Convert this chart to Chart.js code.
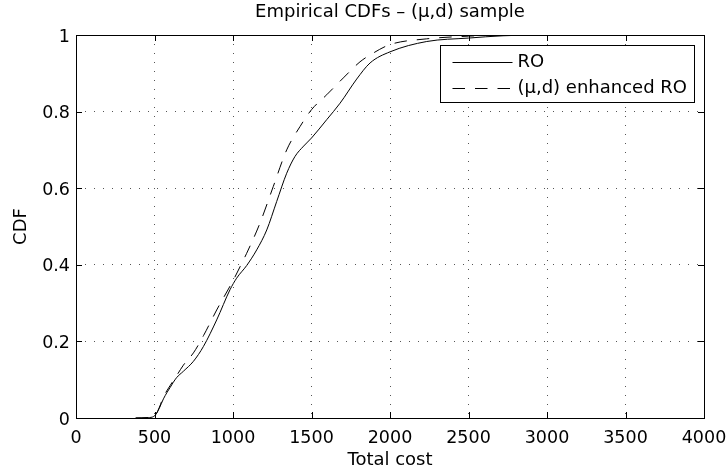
<!DOCTYPE html>
<html><head><meta charset="utf-8">
<script src="https://cdn.jsdelivr.net/npm/chart.js@4.4.1/dist/chart.umd.min.js"></script>
<style>html,body{margin:0;padding:0;background:#fff}#wrap{width:727px;height:473px}</style>
</head><body><div id="wrap"><canvas id="c" width="727" height="473"></canvas></div>
<script>
// ---- data ----
const costRO = [380, 460, 495, 510, 530, 557, 600, 640, 684, 748, 812, 896, 981, 1023, 1087, 1151, 1215, 1278, 1342, 1395, 1450, 1500, 1597, 1682, 1788, 1873, 2000, 2234, 2500, 2720, 2900];
const cdfRO  = [0, 0.001, 0.004, 0.01, 0.025, 0.05, 0.08, 0.105, 0.122, 0.148, 0.187, 0.256, 0.335, 0.365, 0.398, 0.439, 0.491, 0.565, 0.639, 0.683, 0.71, 0.731, 0.779, 0.822, 0.885, 0.927, 0.956, 0.983, 0.992, 0.998, 1];
const costEnh = [380, 460, 495, 510, 530, 557, 600, 640, 684, 748, 812, 896, 1002, 1045, 1087, 1172, 1257, 1342, 1427, 1500, 1597, 1703, 1809, 1894, 2000, 2234, 2500, 2700, 2900];
const cdfEnh  = [0, 0.001, 0.004, 0.01, 0.027, 0.055, 0.085, 0.11, 0.138, 0.17, 0.215, 0.282, 0.36, 0.395, 0.43, 0.509, 0.605, 0.7, 0.761, 0.805, 0.844, 0.888, 0.93, 0.953, 0.975, 0.99, 0.997, 1, 1];
const xTicks = [0, 500, 1000, 1500, 2000, 2500, 3000, 3500, 4000];
const yTicks = [0, 0.2, 0.4, 0.6, 0.8, 1];
const seriesLabels = ['RO', '(\u03bc,d) enhanced RO'];
const titleText = 'Empirical CDFs \u2013 (\u03bc,d) sample';
const xTitle = 'Total cost';
const yTitle = 'CDF';

const FONT = 'DejaVu Sans';
const pts = (xs, ys) => xs.map((x, i) => ({x: x, y: ys[i]}));

const frame = {
  id: 'frame',
  afterDatasetsDraw(chart) {
    const {ctx, chartArea: a, scales: {x, y}} = chart;
    ctx.save();
    ctx.strokeStyle = '#000';
    ctx.lineWidth = 1;
    ctx.setLineDash([]);
    // inner tick marks on all four sides
    ctx.beginPath();
    const tl = 6;
    xTicks.forEach(v => {
      const px = Math.round(x.getPixelForValue(v)) + 0.5;
      ctx.moveTo(px, a.bottom); ctx.lineTo(px, a.bottom - tl);
      ctx.moveTo(px, a.top); ctx.lineTo(px, a.top + tl);
    });
    yTicks.forEach(v => {
      const py = Math.round(y.getPixelForValue(v)) + 0.5;
      ctx.moveTo(a.left, py); ctx.lineTo(a.left + tl, py);
      ctx.moveTo(a.right, py); ctx.lineTo(a.right - tl, py);
    });
    ctx.stroke();
    // box
    ctx.strokeRect(Math.round(a.left) + 0.5, Math.round(a.top) + 0.5,
                   Math.round(a.right - a.left), Math.round(a.bottom - a.top));
    // legend
    ctx.font = '18px "' + FONT + '"';
    const lineLen = 60, padL = 12, gap = 5, padR = 8, rowH = 26.5;
    const tw = Math.max(...chart.data.datasets.map(d => ctx.measureText(d.label).width));
    const bw = Math.round(padL + lineLen + gap + tw + padR);
    const bh = 57;
    const bx = Math.round(a.right - 10 - bw) + 0.5;
    const by = Math.round(a.top + 10) + 0.5;
    ctx.fillStyle = '#fff';
    ctx.fillRect(bx, by, bw, bh);
    ctx.strokeRect(bx, by, bw, bh);
    chart.data.datasets.forEach((d, i) => {
      const cy = Math.round(by + 16 + i * rowH) + 0.5;
      ctx.beginPath();
      ctx.setLineDash(d.borderDash || []);
      ctx.strokeStyle = d.borderColor;
      ctx.lineWidth = d.borderWidth;
      ctx.moveTo(bx + padL, cy);
      ctx.lineTo(bx + padL + lineLen, cy);
      ctx.stroke();
      ctx.setLineDash([]);
      ctx.fillStyle = '#000';
      ctx.textBaseline = 'middle';
      ctx.textAlign = 'left';
      ctx.fillText(d.label, bx + padL + lineLen + gap, cy);
    });
    ctx.restore();
  }
};

new Chart(document.getElementById('c'), {
  type: 'line',
  data: {
    datasets: [
      { label: seriesLabels[0], data: pts(costRO, cdfRO), borderColor: '#000', borderWidth: 1,
        pointRadius: 0, fill: false, cubicInterpolationMode: 'monotone' },
      { label: seriesLabels[1], data: pts(costEnh, cdfEnh), borderColor: '#000', borderWidth: 1,
        borderDash: [12.5, 10], pointRadius: 0, fill: false, cubicInterpolationMode: 'monotone' }
    ]
  },
  options: {
    responsive: false,
    animation: false,
    layout: { padding: { left: 0, right: 23, top: 0, bottom: 0 } },
    plugins: {
      legend: { display: false },
      tooltip: { enabled: false },
      title: { display: true, text: titleText, fullSize: false, color: '#000',
               font: { family: FONT, size: 18, weight: 'normal' },
               padding: { top: 2, bottom: 11.4 } }
    },
    scales: {
      x: {
        type: 'linear', min: 0, max: 4000,
        afterFit: s => { s.height = 55; s.paddingLeft = 0; s.paddingRight = 0; },
        afterBuildTicks: s => { s.ticks = xTicks.map(v => ({value: v})); },
        grid: { color: '#555', lineWidth: 1, drawTicks: false },
        border: { display: false, dash: [1, 8] },
        ticks: { color: '#000', font: { family: FONT, size: 17.5 }, padding: 9.5,
                 maxRotation: 0, autoSkip: false, callback: v => String(v) },
        title: { display: true, text: xTitle, color: '#000',
                 font: { family: FONT, size: 18 }, padding: { top: 0, bottom: 2.2 } }
      },
      y: {
        type: 'linear', min: 0, max: 1,
        afterFit: s => { s.width = 76; s.paddingTop = 0; s.paddingBottom = 0; },
        afterBuildTicks: s => { s.ticks = yTicks.map(v => ({value: v})); },
        grid: { color: '#555', lineWidth: 1, drawTicks: false },
        border: { display: false, dash: [1, 8] },
        ticks: { color: '#000', font: { family: FONT, size: 17.5 }, padding: 6, labelOffset: 2,
                 callback: v => String(Math.round(v * 10) / 10) },
        title: { display: true, text: yTitle, color: '#000',
                 font: { family: FONT, size: 18 }, padding: { top: 11, bottom: 0 } }
      }
    }
  },
  plugins: [frame]
});
</script>
</body></html>
